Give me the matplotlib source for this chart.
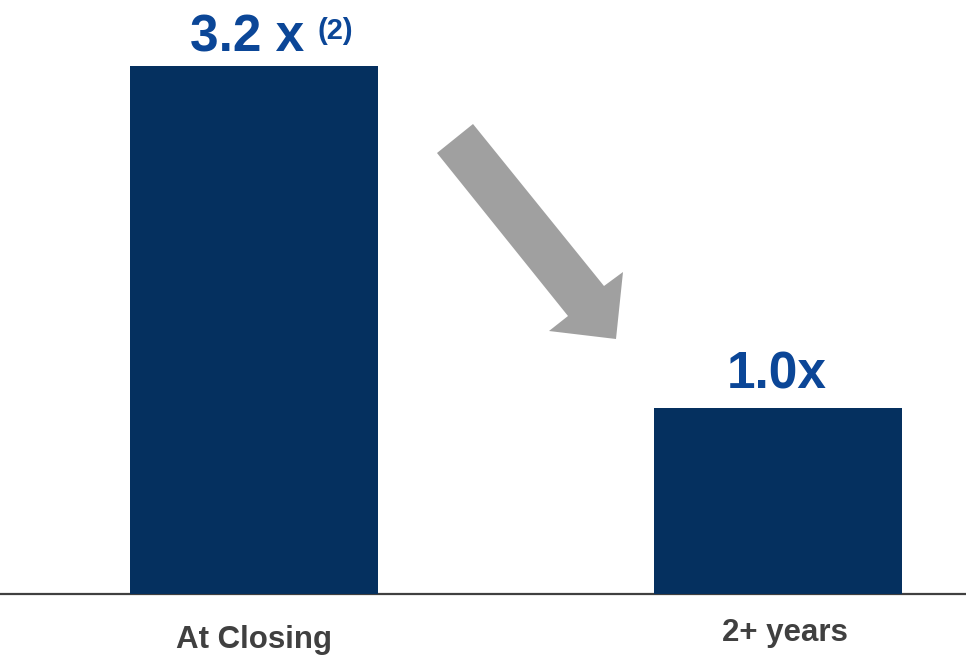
import matplotlib
matplotlib.use("Agg")
import matplotlib.pyplot as plt
from matplotlib.patches import Polygon

plt.rcParams['font.family'] = ['Liberation Sans', 'DejaVu Sans']

# data
categories = ["At Closing", "2+ years"]
values = [3.2, 1.13]          # bar heights as drawn
value_labels = ["3.2 x", "1.0x"]
footnote = "(2)"

bar_color = "#05305F"
label_color = "#0B4697"
text_color = "#404040"

W, H = 966, 655
fig = plt.figure(figsize=(W / 100, H / 100), dpi=100)

# axes: baseline at y=594 px, top of figure at y=0
ax = fig.add_axes([0, (H - 594) / H, 1, 594 / H])
xs = list(range(len(categories)))
ax.bar(xs, values, width=0.473, color=bar_color, zorder=2)
ax.set_xlim(-0.485, 1.359)
ax.set_ylim(0, 3.6)

for s in ["top", "left", "right"]:
    ax.spines[s].set_visible(False)
ax.spines["bottom"].set_color(text_color)
ax.spines["bottom"].set_linewidth(1.6)
ax.spines["bottom"].set_zorder(1)
ax.set_xticks([])
ax.set_yticks([])
ax.patch.set_alpha(0)

# value labels above bars
ax.text(xs[0] - 0.013, values[0] + 0.085, value_labels[0], ha="center", va="baseline",
        fontsize=37, fontweight="bold", color=label_color)
ax.text(xs[1] - 0.002, values[1] + 0.117, value_labels[1], ha="center", va="baseline",
        fontsize=37, fontweight="bold", color=label_color)
ax.text(xs[0] + 0.122, values[0] + 0.165, footnote, ha="left", va="baseline",
        fontsize=21, fontweight="bold", color=label_color)

# category labels below the baseline
ax.text(xs[0], -0.279, categories[0], ha="center", va="center", fontsize=22.5,
        fontweight="bold", color=text_color, clip_on=False)
ax.text(xs[1] + 0.013, -0.236, categories[1], ha="center", va="center", fontsize=22.5,
        fontweight="bold", color=text_color, clip_on=False)

# grey arrow between the bars (pixel coords -> figure fraction)
arrow_px = [(437, 153), (473, 124), (604, 286), (623, 272), (616, 339), (549, 331), (568, 316)]
arrow = Polygon([(x / W, 1 - y / H) for x, y in arrow_px], closed=True,
                transform=fig.transFigure, facecolor="#A0A0A0", edgecolor="none")
fig.patches.append(arrow)

fig.savefig("out.png", dpi=100, facecolor="white")
